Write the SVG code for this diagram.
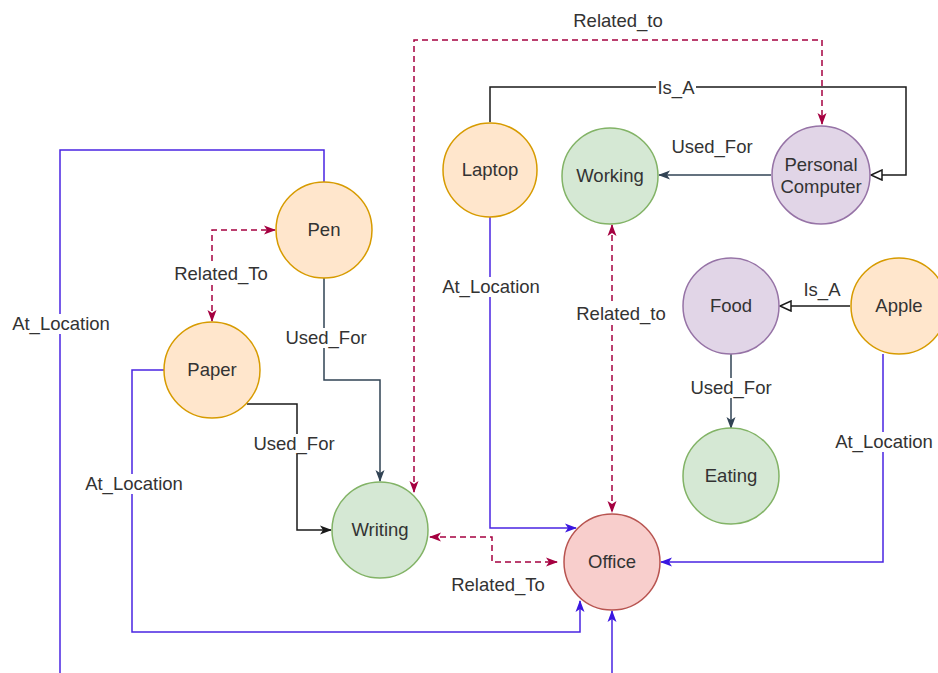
<svg xmlns="http://www.w3.org/2000/svg" width="938" height="673" viewBox="0 0 938 673">
  <style>
    text { font-family: "Liberation Sans", Arial, sans-serif; font-size: 18.5px; fill: #333333; text-anchor: middle; }
    .orange { fill: #ffe6cc; stroke: #d79b00; stroke-width: 1.5; }
    .green { fill: #d5e8d4; stroke: #82b366; stroke-width: 1.5; }
    .purple { fill: #e1d5e7; stroke: #9673a6; stroke-width: 1.5; }
    .red { fill: #f8cecc; stroke: #b85450; stroke-width: 1.5; }
    .edge { fill: none; stroke-width: 1.5; }
    .loc { stroke: #4a25e2; marker-end: url(#arrowBlue); }
    .rel { stroke: #a50040; stroke-dasharray: 6 4; marker-end: url(#arrowRed); }
    .both { marker-start: url(#arrowRedStart); }
    .used { stroke: #314354; marker-end: url(#arrowSlate); }
    .usedBlack { stroke: #1a1a1a; marker-end: url(#arrowBlack); }
    .isa { stroke: #1a1a1a; marker-end: url(#triangleOpen); }
    .bg { fill: #ffffff; }
  </style>
  <defs>
    <marker id="arrowBlue" markerUnits="userSpaceOnUse" markerWidth="12" markerHeight="10" refX="11" refY="5" orient="auto">
      <path d="M0,0.5 L12,5 L0,9.5 L3,5 Z" fill="#3a17e0"/>
    </marker>
    <marker id="arrowRed" markerUnits="userSpaceOnUse" markerWidth="12" markerHeight="10" refX="11" refY="5" orient="auto">
      <path d="M0,0.5 L12,5 L0,9.5 L3,5 Z" fill="#a50040"/>
    </marker>
    <marker id="arrowRedStart" markerUnits="userSpaceOnUse" markerWidth="12" markerHeight="10" refX="11" refY="5" orient="auto-start-reverse">
      <path d="M0,0.5 L12,5 L0,9.5 L3,5 Z" fill="#a50040"/>
    </marker>
    <marker id="arrowSlate" markerUnits="userSpaceOnUse" markerWidth="12" markerHeight="10" refX="11" refY="5" orient="auto">
      <path d="M0,0.5 L12,5 L0,9.5 L3,5 Z" fill="#314354"/>
    </marker>
    <marker id="arrowBlack" markerUnits="userSpaceOnUse" markerWidth="12" markerHeight="10" refX="11" refY="5" orient="auto">
      <path d="M0,0.5 L12,5 L0,9.5 L3,5 Z" fill="#1a1a1a"/>
    </marker>
    <marker id="triangleOpen" markerUnits="userSpaceOnUse" markerWidth="14" markerHeight="12" refX="12" refY="6" orient="auto">
      <path d="M1,1 L12,6 L1,11 Z" fill="#ffffff" stroke="#1a1a1a" stroke-width="1.5"/>
    </marker>
  </defs>

  <!-- connectors -->
  <g id="connectors">
    <path class="edge rel both" d="M414,492 V40 H822 V124"/>
    <path class="edge isa" d="M490,122 V87 H906 V175 H871"/>
    <path class="edge used" d="M771,175 H659"/>
    <path class="edge rel both" d="M612,225 V512"/>
    <path class="edge loc" d="M490,217 V528 H576"/>
    <path class="edge used" d="M324,278 V380 H380 V481"/>
    <path class="edge usedBlack" d="M247,404 H297 V530 H331"/>
    <path class="edge rel both" d="M212,321 V230 H275"/>
    <path class="edge loc" d="M324,182 V150 H60 V700 H612 V611"/>
    <path class="edge loc" d="M164,370 H132 V632 H580 V601"/>
    <path class="edge loc" d="M883,354 V562 H661"/>
    <path class="edge isa" d="M850,306 H780"/>
    <path class="edge used" d="M731,354 V428"/>
    <path class="edge rel both" d="M430,537 H492 V562 H557"/>

    <!-- labels -->
    <text x="618" y="27">Related_to</text>
    <rect class="bg" x="656" y="78" width="40" height="20"/>
    <text x="676" y="94">Is_A</text>
    <text x="712" y="153">Used_For</text>
    <rect class="bg" x="170" y="264" width="102" height="20"/>
    <text x="221" y="280">Related_To</text>
    <rect class="bg" x="8" y="314" width="106" height="20"/>
    <text x="61" y="330">At_Location</text>
    <rect class="bg" x="282" y="328" width="88" height="20"/>
    <text x="326" y="344">Used_For</text>
    <rect class="bg" x="438" y="277" width="106" height="20"/>
    <text x="491" y="293">At_Location</text>
    <rect class="bg" x="572" y="304" width="98" height="20"/>
    <text x="621" y="320">Related_to</text>
    <text x="822" y="296">Is_A</text>
    <rect class="bg" x="687" y="378" width="88" height="20"/>
    <text x="731" y="394">Used_For</text>
    <rect class="bg" x="831" y="432" width="106" height="20"/>
    <text x="884" y="448">At_Location</text>
    <rect class="bg" x="250" y="434" width="88" height="20"/>
    <text x="294" y="450">Used_For</text>
    <rect class="bg" x="81" y="474" width="106" height="20"/>
    <text x="134" y="490">At_Location</text>
    <text x="498" y="591">Related_To</text>
  </g>

  <!-- nodes -->
  <g id="laptop"><circle class="orange" cx="490" cy="170" r="47"/><text x="490" y="176">Laptop</text></g>
  <g id="working"><circle class="green" cx="610" cy="176" r="48"/><text x="610" y="182">Working</text></g>
  <g id="personal-computer"><circle class="purple" cx="821" cy="175" r="49"/><text x="821" y="171">Personal</text><text x="821" y="193">Computer</text></g>
  <g id="pen"><circle class="orange" cx="324" cy="230" r="48"/><text x="324" y="236">Pen</text></g>
  <g id="paper"><circle class="orange" cx="212" cy="370" r="48"/><text x="212" y="376">Paper</text></g>
  <g id="food"><circle class="purple" cx="731" cy="306" r="48"/><text x="731" y="312">Food</text></g>
  <g id="apple"><circle class="orange" cx="899" cy="306" r="48"/><text x="899" y="312">Apple</text></g>
  <g id="eating"><circle class="green" cx="731" cy="476" r="48"/><text x="731" y="482">Eating</text></g>
  <g id="writing"><circle class="green" cx="380" cy="530" r="48"/><text x="380" y="536">Writing</text></g>
  <g id="office"><circle class="red" cx="612" cy="562" r="48"/><text x="612" y="568">Office</text></g>
</svg>
